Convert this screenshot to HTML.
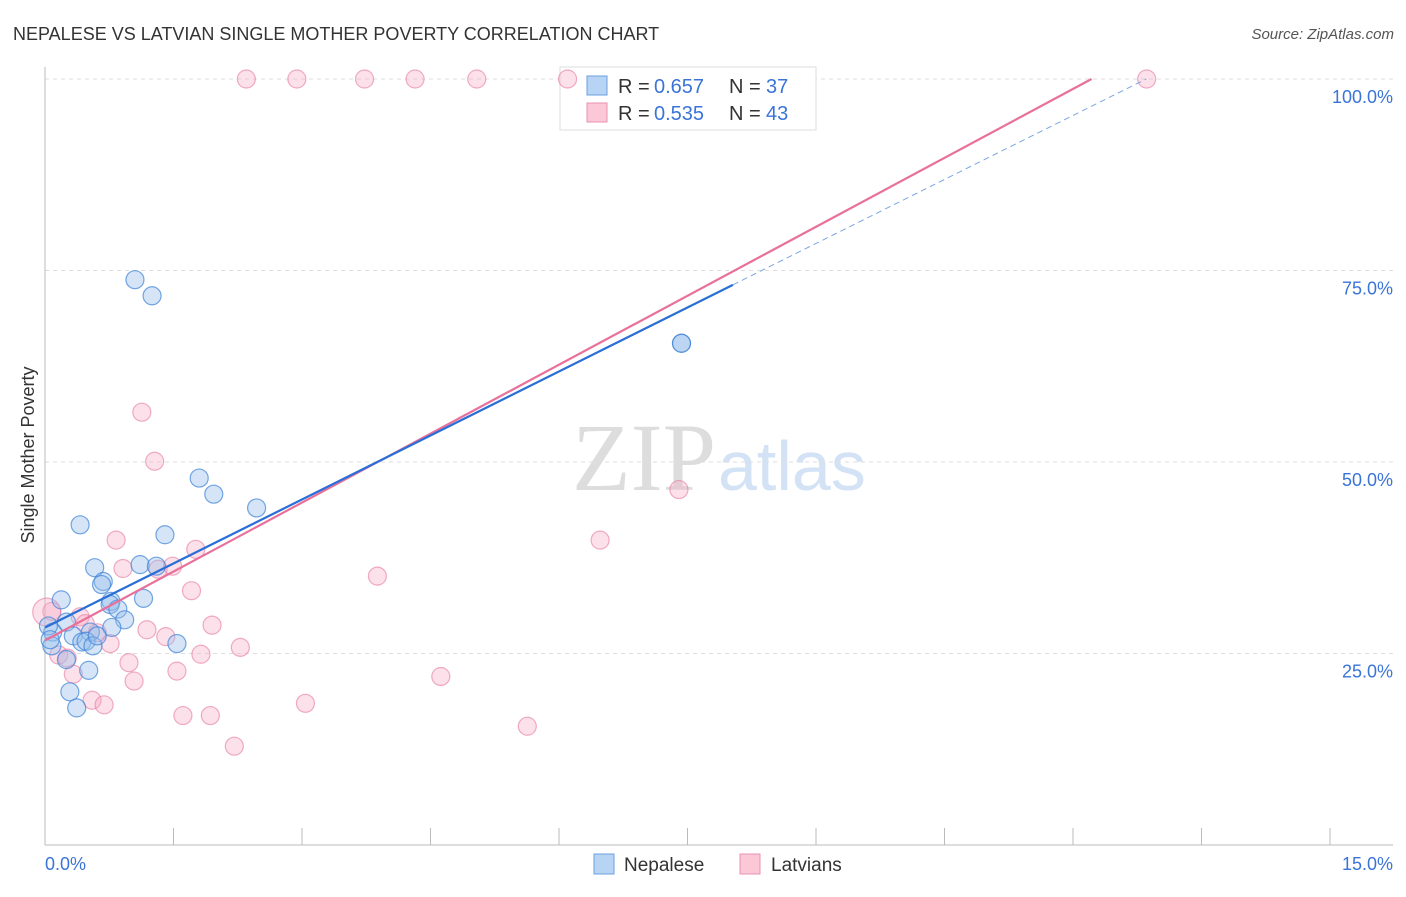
<!DOCTYPE html>
<html><head><meta charset="utf-8"><style>
body{margin:0;background:#fff;font-family:"Liberation Sans",sans-serif}
</style></head><body>
<svg width="1406" height="892" xmlns="http://www.w3.org/2000/svg">
<text x="13" y="40" font-size="18" fill="#333">NEPALESE VS LATVIAN SINGLE MOTHER POVERTY CORRELATION CHART</text>
<text x="1394" y="39" font-size="15" fill="#555" text-anchor="end" font-style="italic">Source: ZipAtlas.com</text>
<text x="716" y="490" font-size="96" fill="#ddd" text-anchor="end" font-family="Liberation Serif,serif">ZIP</text>
<text x="718" y="490" font-size="70" fill="#d3e3f5">atlas</text>
<g id="grid"></g>
<g id="axes"></g>
<g>
<rect x="560" y="67" width="256" height="63" fill="#fff" stroke="#ddd"/>
<rect x="587" y="76" width="20" height="19" fill="#b8d4f4" stroke="#6a9fe0"/>
<rect x="587" y="103" width="20" height="19" fill="#fbc8d8" stroke="#e890ae"/>
<text x="618" y="93" font-size="20" fill="#333">R =</text><text x="654" y="93" font-size="20" fill="#3a74d8">0.657</text>
<text x="729" y="93" font-size="20" fill="#333">N =</text><text x="766" y="93" font-size="20" fill="#3a74d8">37</text>
<text x="618" y="120" font-size="20" fill="#333">R =</text><text x="654" y="120" font-size="20" fill="#3a74d8">0.535</text>
<text x="729" y="120" font-size="20" fill="#333">N =</text><text x="766" y="120" font-size="20" fill="#3a74d8">43</text>
</g>
<g id="pts"></g>
<g id="lines"></g>
<text transform="translate(34,455) rotate(-90)" font-size="18" fill="#333" text-anchor="middle">Single Mother Poverty</text>
<g>
<rect x="594" y="854" width="20" height="20" fill="#b8d4f4" stroke="#6a9fe0"/>
<text x="624" y="871" font-size="19" fill="#333">Nepalese</text>
<rect x="740" y="854" width="20" height="20" fill="#fbc8d8" stroke="#e890ae"/>
<text x="771" y="871" font-size="19" fill="#333">Latvians</text>
</g>
</svg>
<script>
const xTicks=[0,1.5,3,4.5,6,7.5,9,10.5,12,13.5,15];
const yTicks=[25,50,75,100];
const nepX=[1.05,1.25,7.43,1.8,1.97,2.47,0.41,1.4,0.58,1.11,1.3,0.68,0.66,0.77,0.76,1.15,0.19,0.85,0.93,0.25,0.09,0.04,0.53,0.33,0.43,0.48,0.56,0.78,1.54,0.08,0.06,0.25,0.51,0.29,0.37,0.61,7.43];
const nepY=[73.8,71.7,65.5,47.9,45.8,44,41.8,40.5,36.2,36.6,36.4,34.4,34,31.8,31.4,32.2,32,30.8,29.4,29.1,27.8,28.6,27.8,27.3,26.5,26.6,26,28.4,26.3,26,26.8,24.2,22.8,20,17.9,27.3,65.5];
const latX=[2.35,2.94,3.73,4.32,5.04,6.1,12.86,1.13,1.28,7.4,0.83,6.48,1.76,3.88,0.91,1.32,1.49,1.71,0.08,0.41,0.47,1.95,1.19,1.41,2.28,0.76,0.61,1.82,0.16,0.26,0.98,1.54,0.33,4.62,1.04,3.04,0.55,0.69,1.61,1.93,5.63,2.21,0.02];
const latY=[100,100,100,100,100,100,100,56.5,50.1,46.4,39.8,39.8,38.6,35.1,36.1,36,36.4,33.2,30.5,29.8,28.9,28.7,28.1,27.2,25.8,26.3,27.7,24.9,24.8,24.4,23.8,22.7,22.3,22,21.4,18.5,18.9,18.3,16.9,16.9,15.5,12.9,30.4];
// trend: [intercept %, slope %/%]
const nepFit=[28.4,5.57]; const nepSolidEnd=8.03;
const latFit=[26.7,6.0];
const X=v=>45+v/15*1285, Y=v=>845-v*7.66;
const NS='http://www.w3.org/2000/svg';
function mk(t,a,p){const e=document.createElementNS(NS,t);for(const k in a)e.setAttribute(k,a[k]);p.appendChild(e);return e;}
const g=document.getElementById('grid'),ax=document.getElementById('axes'),pts=document.getElementById('pts'),ln=document.getElementById('lines');
yTicks.forEach(t=>{const l=mk('line',{x1:45,x2:1393,y1:Y(t),y2:Y(t),stroke:'#ddd','stroke-dasharray':'4,4'},g);


const tx=mk('text',{x:1393,y:Y(t)+24,'font-size':18,fill:'#3a74d8','text-anchor':'end'},ax);tx.textContent=t.toFixed(1)+'%';

});
mk('line',{x1:45,x2:45,y1:67,y2:845,stroke:'#bbb'},ax);
mk('line',{x1:45,x2:1393,y1:845,y2:845,stroke:'#bbb'},ax);
xTicks.forEach((t,i)=>{if(i>0){const l=mk('line',{x1:X(t),x2:X(t),y1:828,y2:845,stroke:'#bbb'},ax);

}});
[[0,'start',45],[15,'end',1393]].forEach(([v,a,x])=>{const t=mk('text',{x:x,y:870,'font-size':18,fill:'#3a74d8','text-anchor':a},ax);t.textContent=v.toFixed(1)+'%';

});
latX.forEach((v,i)=>{const c=mk('circle',{cx:X(v),cy:Y(latY[i]),r:i==42?14:9,fill:'rgba(246,170,195,0.35)',stroke:'rgba(230,120,160,0.6)','stroke-width':1.2},pts);

});
nepX.forEach((v,i)=>{const c=mk('circle',{cx:X(v),cy:Y(nepY[i]),r:9,fill:'rgba(150,190,235,0.4)',stroke:'rgba(60,130,215,0.7)','stroke-width':1.2},pts);

});
const latEnd=(100-latFit[0])/latFit[1];
const lp=mk('line',{x1:X(0),y1:Y(latFit[0]),x2:X(latEnd),y2:Y(100),stroke:'#e8709a','stroke-width':2.2},ln);


const nepEnd=(100-nepFit[0])/nepFit[1];
const nb=mk('line',{x1:X(0),y1:Y(nepFit[0]),x2:X(nepSolidEnd),y2:Y(nepFit[0]+nepFit[1]*nepSolidEnd),stroke:'#2a6fd6','stroke-width':2.2},ln);


const nd=mk('line',{x1:X(nepSolidEnd),y1:Y(nepFit[0]+nepFit[1]*nepSolidEnd),x2:X(nepEnd),y2:Y(100),stroke:'#7aa6e0','stroke-width':1,'stroke-dasharray':'6,4'},ln);


</script>
</body></html>
